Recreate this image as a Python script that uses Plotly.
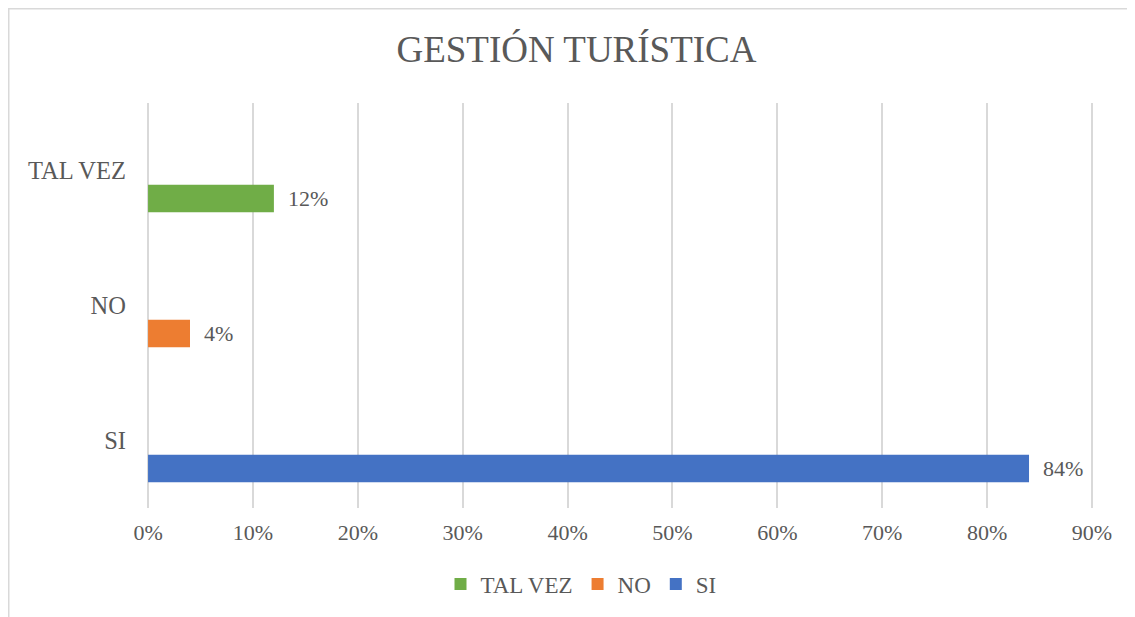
import plotly.graph_objects as go

categories = ["SI", "NO", "TAL VEZ"]
values = [0.84, 0.04, 0.12]
colors = ["#4472C4", "#ED7D31", "#70AD47"]
x_ticks = [0, 0.1, 0.2, 0.3, 0.4, 0.5, 0.6, 0.7, 0.8, 0.9]
x_tick_labels = ["0%", "10%", "20%", "30%", "40%", "50%", "60%", "70%", "80%", "90%"]

FONT = "Liberation Serif, Times New Roman, serif"
GRAY = "#595959"
NB = "\u00a0"

# page body has an 8px margin, so the figure is made 8px smaller
W, H = 1127, 609
L, R, T, B = 139, 42, 95, 109
PW, PH = W - L - R, H - T - B

fig = go.Figure()
for cat, val, col in zip(categories, values, colors):
    fig.add_trace(go.Bar(
        y=[cat], x=[val], name=cat, orientation="h",
        marker=dict(color=col, line=dict(width=0)),
        width=0.205, offset=-0.31,
        text=[NB * 2 + f"{val:.0%}"], textposition="outside",
        textfont=dict(family=FONT, size=22, color=GRAY),
        cliponaxis=False,
    ))

fig.update_layout(
    width=W, height=H,
    paper_bgcolor="white", plot_bgcolor="white",
    margin=dict(l=L, r=R, t=T, b=B, autoexpand=False),
    title=dict(text="GESTIÓN TURÍSTICA", x=568.5 / W, xanchor="center",
               xref="container",
               y=1 - 41 / H, yanchor="middle",
               font=dict(family=FONT, size=37, color=GRAY)),
    barmode="group",
    showlegend=True,
    legend=dict(orientation="h", traceorder="reversed",
                xref="container", x=573 / W, xanchor="center",
                y=-76 / PH, yanchor="middle",
                font=dict(family=FONT, size=23, color=GRAY),
                itemwidth=30),
    xaxis=dict(range=[-0.001, 0.901], tickvals=x_ticks, ticktext=x_tick_labels,
               showgrid=True, gridcolor="#D9D9D9", gridwidth=2,
               zeroline=False, showline=False, ticks="",
               ticklabelstandoff=9,
               tickfont=dict(family=FONT, size=22, color=GRAY)),
    yaxis=dict(categoryorder="array", categoryarray=categories,
               range=[-0.5, 2.5], showgrid=False, zeroline=False,
               showline=False, ticks="", ticklabelstandoff=20,
               tickfont=dict(family=FONT, size=24.5, color=GRAY)),
)

fig.add_shape(type="rect", xref="paper", yref="paper",
              x0=(0.5 - L) / PW, x1=1.2, y0=-0.5, y1=1 + (T - 0.5) / PH,
              line=dict(color="#D9D9D9", width=2), fillcolor="rgba(0,0,0,0)",
              layer="below")

fig.write_html("out.html")
